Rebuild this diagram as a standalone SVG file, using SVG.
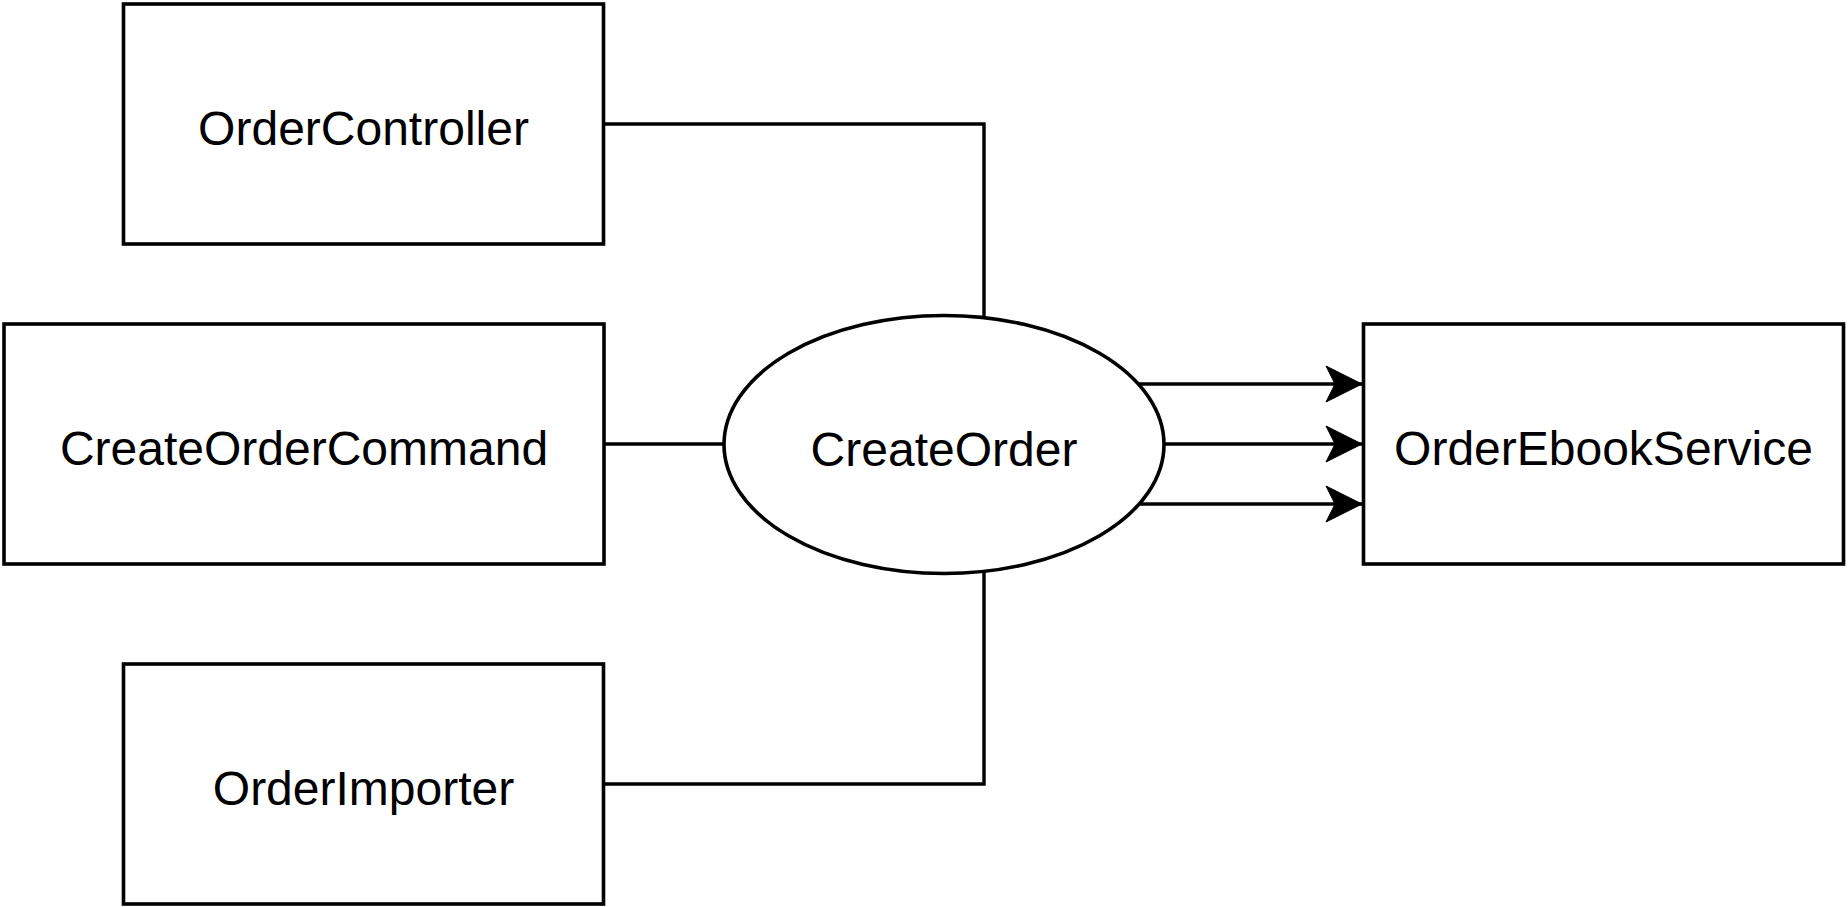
<svg xmlns="http://www.w3.org/2000/svg" width="1848" height="907" viewBox="0 0 1848 907">
  <defs>
    <style>
      .box { fill: #ffffff; stroke: #000000; stroke-width: 3.6; }
      .lbl { font-family: "Liberation Sans", Arial, Helvetica, sans-serif; font-size: 48px; fill: #000000; text-anchor: middle; }
      .edge { fill: none; stroke: #000000; stroke-width: 3.4; }
    </style>
    <marker id="arrow" markerUnits="userSpaceOnUse" markerWidth="44" markerHeight="44" viewBox="-40 -22 44 44" refX="0" refY="0" orient="auto">
      <path d="M0,0 L-36,-18 L-27,0 L-36,18 Z" fill="#000000" stroke="#000000" stroke-width="1"/>
    </marker>
  </defs>
  <rect width="1848" height="907" fill="#ffffff"/>
  <g id="connectors">
    <path class="edge" d="M604,124 L984,124 L984,318"/>
    <path class="edge" d="M604,444 L724,444"/>
    <path class="edge" d="M604,784 L984,784 L984,572"/>
    <path class="edge" d="M1139,384 L1362,384" marker-end="url(#arrow)"/>
    <path class="edge" d="M1164,444 L1362,444" marker-end="url(#arrow)"/>
    <path class="edge" d="M1139,504 L1362,504" marker-end="url(#arrow)"/>
  </g>
  <g id="OrderController">
    <rect class="box" x="123.5" y="4" width="480" height="240"/>
    <text class="lbl" x="363.5" y="145">OrderController</text>
  </g>
  <g id="CreateOrderCommand">
    <rect class="box" x="4" y="324" width="600" height="240"/>
    <text class="lbl" x="304" y="465">CreateOrderCommand</text>
  </g>
  <g id="OrderImporter">
    <rect class="box" x="123.5" y="664" width="480" height="240"/>
    <text class="lbl" x="363.5" y="805">OrderImporter</text>
  </g>
  <g id="CreateOrder">
    <ellipse class="box" cx="944" cy="444.5" rx="220" ry="129"/>
    <text class="lbl" x="944" y="466">CreateOrder</text>
  </g>
  <g id="OrderEbookService">
    <rect class="box" x="1363.5" y="324" width="480" height="240"/>
    <text class="lbl" x="1603.5" y="465">OrderEbookService</text>
  </g>
</svg>
